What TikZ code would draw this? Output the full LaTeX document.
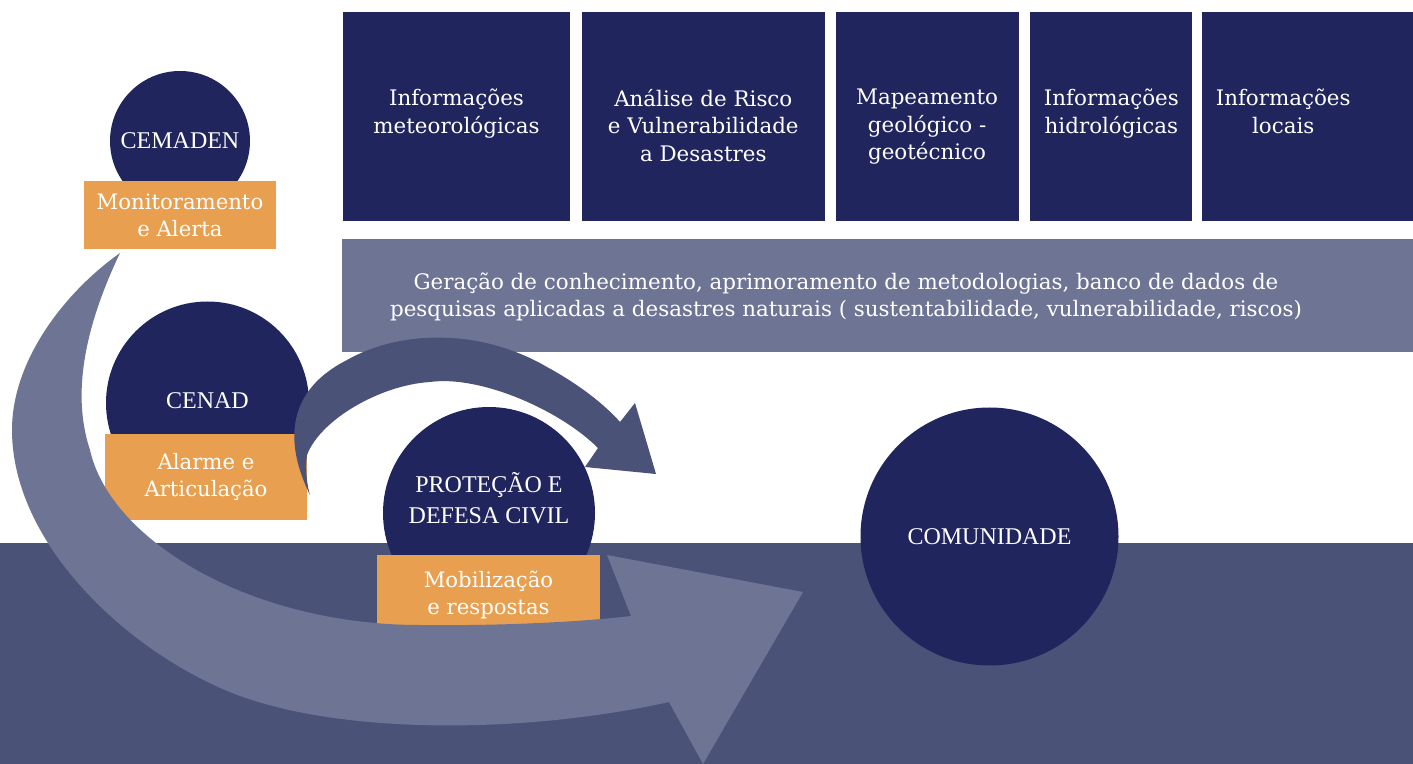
\documentclass[tikz,border=0pt]{standalone}
\usepackage{fontspec}
\setmainfont{DejaVu Serif}
\newfontfamily\circfont{Liberation Serif}
\usetikzlibrary{positioning}
\definecolor{mynavy}{RGB}{33,37,94}
\definecolor{myslate}{RGB}{74,82,120}
\definecolor{mylight}{RGB}{110,116,148}
\definecolor{myorange}{RGB}{232,160,80}
\tikzset{
  infobox/.style={rectangle, fill=mynavy, minimum height=104.5pt, inner sep=0pt},
  boxtext/.style={align=center, text=white, inner sep=0pt,
    font=\fontsize{10.7}{13.8}\selectfont},
  org/.style={circle, fill=mynavy, text=white, align=center, inner sep=0pt,
    font=\circfont\fontsize{12}{15.5}\selectfont},
  rolebox/.style={rectangle, fill=myorange, text=white, align=center, inner sep=0pt,
    font=\fontsize{10.6}{13.5}\selectfont}
}

\begin{document}
\begin{tikzpicture}[x=0.5pt, y=-0.5pt]
  \useasboundingbox (0,0) rectangle (1413,764);
  \clip (0,0) rectangle (1413,764);
  % Background bands
  \fill[white] (0,0) rectangle (1413,764);
  \fill[myslate] (0,543) rectangle (1413,764);
  % Information boxes
  \node[infobox, minimum width=113.5pt] (meteo) at (456.5,116.5) {};
  \node[infobox, minimum width=121.5pt, right=5.5pt of meteo] (risco) {};
  \node[infobox, minimum width=91.5pt, right=5pt of risco] (geo) {};
  \node[infobox, minimum width=81pt, right=5.5pt of geo] (hidro) {};
  \node[infobox, minimum width=107pt, right=4.5pt of hidro] (locais) {};
  \node[boxtext, anchor=north] (meteotxt) at ([yshift=-38.5pt]meteo.north) {Informações\\meteorológicas};
  \node[boxtext, anchor=north] (riscotxt) at ([yshift=-38.5pt]risco.north) {Análise de Risco\\e Vulnerabilidade\\a Desastres};
  \node[boxtext, anchor=north] (geotxt) at ([yshift=-38.5pt]geo.north) {Mapeamento\\geológico -\\geotécnico};
  \node[boxtext, anchor=north] (hidrotxt) at ([yshift=-38.5pt]hidro.north) {Informações\\hidrológicas};
  \node[boxtext, anchor=north] (locaistxt) at ([xshift=-13pt, yshift=-38.5pt]locais.north) {Informações\\locais};
  % Research band
  \node[rectangle, fill=mylight, minimum width=535.5pt, minimum height=56.5pt,
    inner sep=0pt] (pesquisa) at (877.5,295.5) {};
  \node[boxtext] (pesquisatxt) at (846,297) {Geração de conhecimento, aprimoramento de metodologias, banco de dados de\\pesquisas aplicadas a desastres naturais ( sustentabilidade, vulnerabilidade, riscos)};
  % Organisations
  \node[org, minimum size=70pt] (cemaden) at (180,141) {CEMADEN};
  \node[rolebox, minimum width=96pt, minimum height=34pt] (monit) at (180,215) {Monitoramento\\e Alerta};
  \node[org, minimum size=101.5pt] (cenad) at (207.5,403) {};
  \node[org] (cenadtxt) at ([yshift=1pt]cenad.center) {CENAD};
  \node[rolebox, minimum width=101.25pt, minimum height=43pt] (alarme) at (206,477) {Alarme e\\Articulação};
  % Small arrow
  \fill[myslate] (310,495) .. controls (283,440) and (288,390) .. (347,360)
    .. controls (400,330) and (480,328) .. (547,367)
    .. controls (580,385) and (605,405) .. (620,422)
    -- (635,403) -- (656,474) -- (585,467) -- (598,448)
    .. controls (560,410) and (480,375) .. (430,382)
    .. controls (380,385) and (320,420) .. (307,455)
    .. controls (305,470) and (307,485) .. (310,495) -- cycle;
  \node[org, minimum size=106pt] (defesa) at (489,513) {};
  \node[org] (defesatxt) at ([yshift=7.5pt]defesa.center) {PROTEÇÃO E\\DEFESA CIVIL};
  \node[rolebox, minimum width=111.5pt, minimum height=39.5pt] (mobil) at (488.5,594.5) {Mobilização\\e respostas};
  \node[org, minimum size=129pt] (comunidade) at (989.5,536.5) {COMUNIDADE};
  % Big arrow
  \fill[mylight] (120,253) .. controls (88,320) and (70,390) .. (90,450)
    .. controls (110,540) and (250,625) .. (420,625)
    .. controls (500,626) and (580,622) .. (631,616)
    -- (607,555) -- (803,592) -- (703,764) -- (669,702)
    .. controls (520,735) and (330,735) .. (225,690)
    .. controls (120,645) and (12,540) .. (12,430)
    .. controls (12,360) and (65,292) .. (120,253) -- cycle;
\end{tikzpicture}
\end{document}
